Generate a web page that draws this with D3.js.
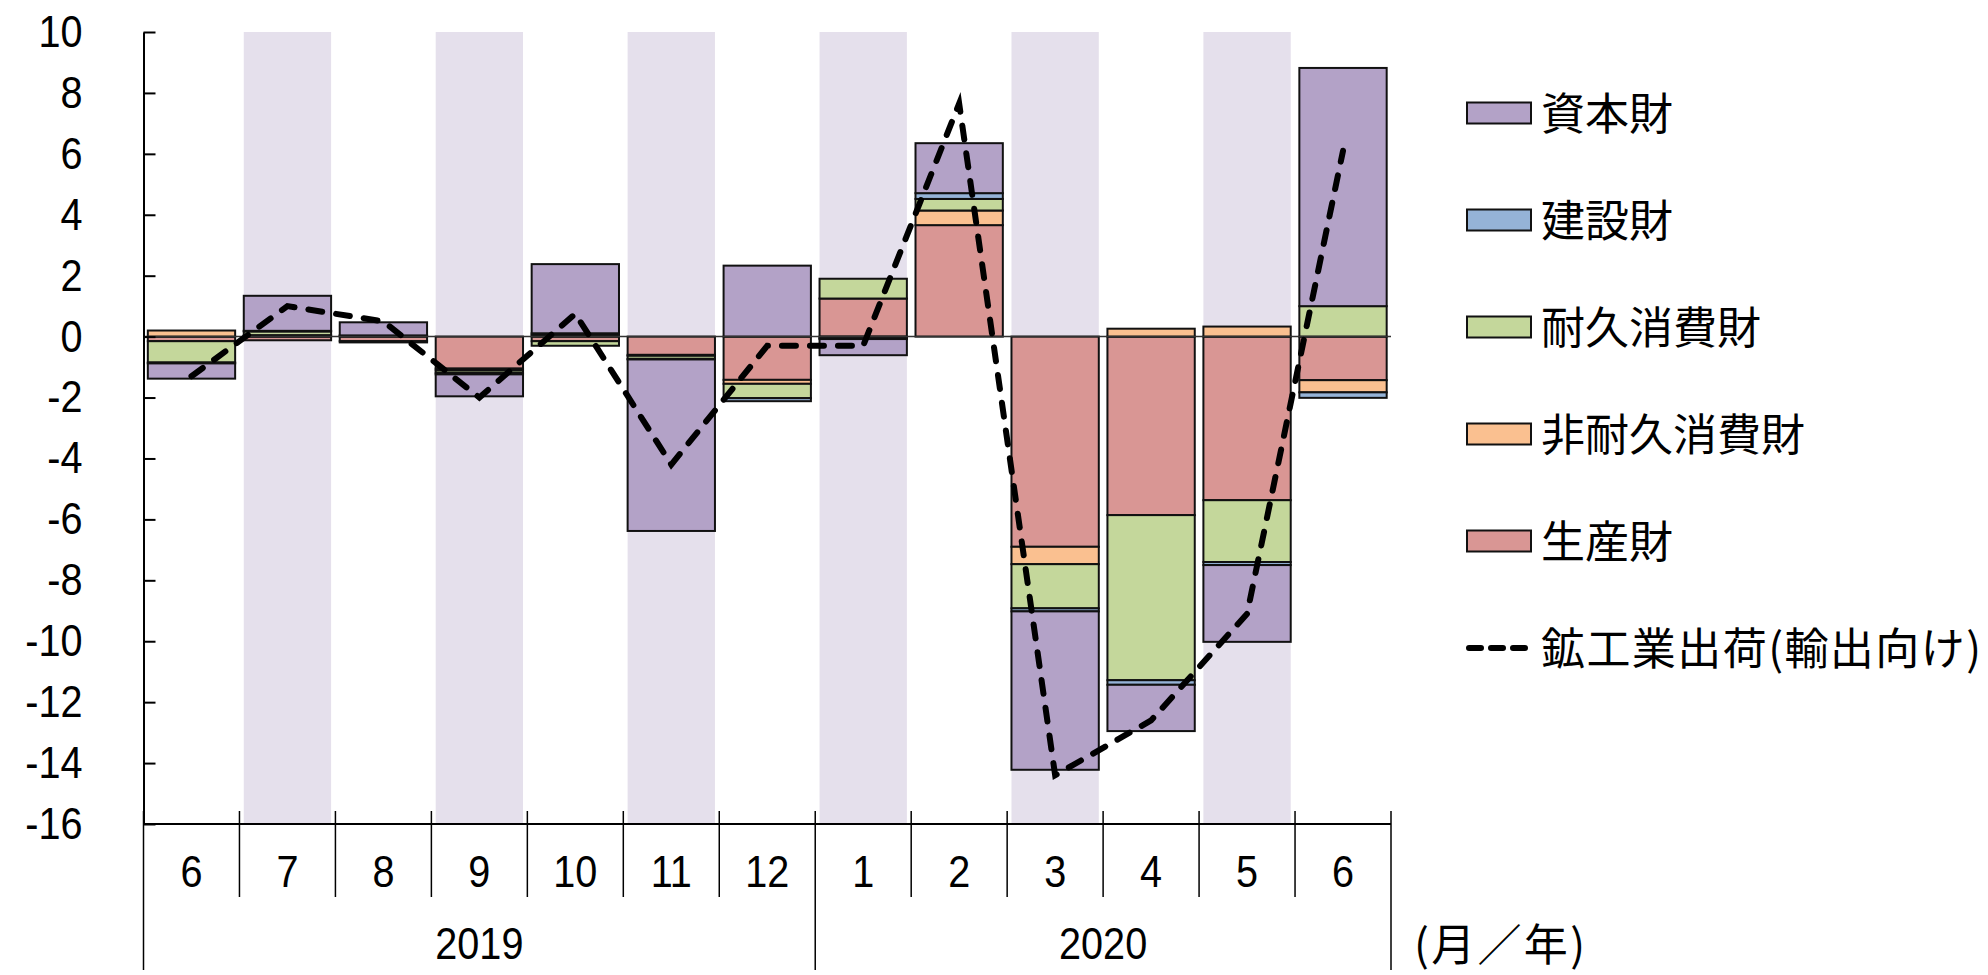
<!DOCTYPE html>
<html><head><meta charset="utf-8">
<script src="https://cdnjs.cloudflare.com/ajax/libs/d3/7.8.5/d3.min.js"></script>
<style>body{margin:0;background:#fff}svg{display:block}</style>
</head><body><svg id="c" width="1988" height="975"></svg>
<script>
// ---- data ----
const months = ["6","7","8","9","10","11","12","1","2","3","4","5","6"];
const yearLabels = ["2019","2020"];
const yearStart = [0, 7];
const yearEnd = [7, 13];
const shaded = [0,1,0,1,0,1,0,1,0,1,0,1,0];
const yTicks = [10,8,6,4,2,0,-2,-4,-6,-8,-10,-12,-14,-16];
const seriesNames = ["資本財","建設財","耐久消費財","非耐久消費財","生産財"];
const capital      = [-0.5, 1.15, 0.43, -0.72, 2.27, -5.63, 2.33, -0.53, 1.64, -5.2, -1.52, -2.52, 7.82];
const construction = [-0.03, 0.02, 0.01, -0.05, 0.05, -0.02, -0.1, -0.03, 0.19, -0.1, -0.15, -0.1, -0.18];
const durable      = [-0.7, 0.12, 0.03, -0.08, -0.15, -0.1, -0.47, 0.65, 0.38, -1.45, -5.42, -2.03, 1.0];
const nondurable   = [0.2, 0.05, -0.04, -0.06, 0.06, -0.03, -0.13, -0.05, 0.48, -0.57, 0.26, 0.33, -0.4];
const producer     = [-0.15, -0.12, -0.15, -1.05, -0.15, -0.6, -1.42, 1.25, 3.66, -6.9, -5.86, -5.37, -1.43];
const lineName = "鉱工業出荷(輸出向け)";
const exportsLine  = [-1.3, 1.0, 0.5, -2.0, 0.75, -4.2, -0.3, -0.3, 7.65, -14.4, -12.6, -9.1, 6.1];
const unitLabel = "(月／年)";

// ---- setup ----
const colors = {capital:"#b3a2c7", construction:"#95b3d7", durable:"#c4d79b", nondurable:"#fac090", producer:"#d99694"};
const numFont = "'Liberation Sans', Arial, sans-serif";
const jpFont = "'Noto Sans CJK JP', sans-serif";
const SX = 0.88; // horizontal condensing of digit labels
const svg = d3.select("#c");
svg.append("rect").attr("width",1988).attr("height",975).attr("fill","#fff");

const L = 143.5, R = 1391, T = 32, B = 824;
const x = d3.scaleBand().domain(d3.range(months.length)).range([L, R]).padding(0);
const y = d3.scaleLinear().domain([-16, 10]).range([B, T]);
const bw = x.bandwidth() * 0.91, off = (x.bandwidth() - bw) / 2;

// background bands
svg.append("g").selectAll("rect").data(shaded.map((s,i)=>({s,i})).filter(d=>d.s))
  .join("rect")
  .attr("x", d => x(d.i) + off).attr("width", bw)
  .attr("y", y(10)).attr("height", y(-16) - y(10))
  .attr("fill", "#e5e0ec");

// stacked bars
const keys = ["producer","nondurable","durable","construction","capital"];
const src = {capital, construction, durable, nondurable, producer};
const rows = months.map((m,i) => { const o = {i}; keys.forEach(k => o[k] = src[k][i]); return o; });
const stack = d3.stack().keys(keys).offset(d3.stackOffsetDiverging)(rows);
const gb = svg.append("g");
stack.forEach(layer => {
  gb.append("g").selectAll("rect").data(layer.filter(d => d[1] !== d[0])).join("rect")
    .attr("x", d => x(d.data.i) + off).attr("width", bw)
    .attr("y", d => y(Math.max(d[0], d[1])))
    .attr("height", d => Math.abs(y(d[0]) - y(d[1])))
    .attr("fill", colors[layer.key]).attr("stroke", "#111").attr("stroke-width", 2);
});

// zero line
svg.append("line").attr("x1", L).attr("x2", R).attr("y1", y(0)).attr("y2", y(0))
  .attr("stroke", "#333").attr("stroke-width", 1.5);

// y axis
const ya = svg.append("g").attr("transform", `translate(${L},0)`)
  .call(d3.axisLeft(y).tickValues(yTicks).tickSize(-12).tickSizeOuter(0).tickPadding(61).tickFormat(d => String(d)));
ya.selectAll("path,line").attr("stroke", "#000").attr("stroke-width", 2);
ya.selectAll("text").attr("font-family", numFont).attr("font-size", 45).attr("fill", "#000")
  .attr("x", -61 / SX).attr("transform", `scale(${SX},1)`);

// x axis line
svg.append("line").attr("x1", L).attr("x2", R).attr("y1", B).attr("y2", B).attr("stroke", "#000").attr("stroke-width", 2);
// month labels
const xa = svg.append("g").attr("transform", `translate(0,${B})`)
  .call(d3.axisBottom(x).tickSize(0).tickPadding(31).tickFormat(i => months[i]));
xa.select(".domain").remove();
xa.selectAll("text").attr("font-family", numFont).attr("font-size", 45).attr("fill", "#000")
  .attr("transform", `scale(${SX},1)`);
// month boundaries
const bounds = d3.range(months.length + 1).map(k => k < months.length ? x(k) : R);
svg.append("g").selectAll("line").data(bounds).join("line")
  .attr("x1", d => d).attr("x2", d => d)
  .attr("y1", B - 13)
  .attr("y2", (d, k) => (yearStart.includes(k) || k === months.length) ? 970 : 897)
  .attr("stroke", "#000").attr("stroke-width", 1.5);
// year labels
svg.append("g").selectAll("text").data(yearLabels).join("text")
  .attr("transform", (d, j) => `translate(${(x(yearStart[j]) + (yearEnd[j] < months.length ? x(yearEnd[j]) : R)) / 2},959) scale(${SX},1)`)
  .attr("text-anchor", "middle")
  .attr("font-family", numFont).attr("font-size", 45).attr("fill", "#000").text(d => d);
svg.append("text").attr("x", 1414).attr("y", 961).attr("font-family", jpFont).attr("font-size", 44)
  .attr("textLength", 171).attr("lengthAdjust", "spacing").attr("fill", "#000").text(unitLabel);

// dashed line
const line = d3.line().x((d, i) => x(i) + x.bandwidth() / 2).y(d => y(d));
svg.append("path").datum(exportsLine).attr("d", line).attr("fill", "none")
  .attr("stroke", "#000").attr("stroke-width", 6).attr("stroke-dasharray", "14,14").attr("stroke-linecap", "round");

// legend
const legKeys = ["capital","construction","durable","nondurable","producer"];
const lg = svg.append("g");
legKeys.forEach((k, j) => {
  const cy = 113 + j * 107;
  lg.append("rect").attr("x", 1467).attr("y", cy - 10.5).attr("width", 64).attr("height", 21)
    .attr("fill", colors[k]).attr("stroke", "#111").attr("stroke-width", 2);
  lg.append("text").attr("x", 1541).attr("y", cy + 16.5).attr("font-family", jpFont).attr("font-size", 44)
    .attr("fill", "#000").text(seriesNames[j]);
});
{
  const cy = 113 + 5 * 107;
  lg.append("line").attr("x1", 1469).attr("x2", 1525).attr("y1", cy).attr("y2", cy)
    .attr("stroke", "#000").attr("stroke-width", 6).attr("stroke-dasharray", "12,10").attr("stroke-linecap", "round");
  lg.append("text").attr("x", 1541).attr("y", cy + 16.5).attr("font-family", jpFont).attr("font-size", 44)
    .attr("textLength", 440).attr("lengthAdjust", "spacing")
    .attr("fill", "#000").text(lineName);
}
</script></body></html>
